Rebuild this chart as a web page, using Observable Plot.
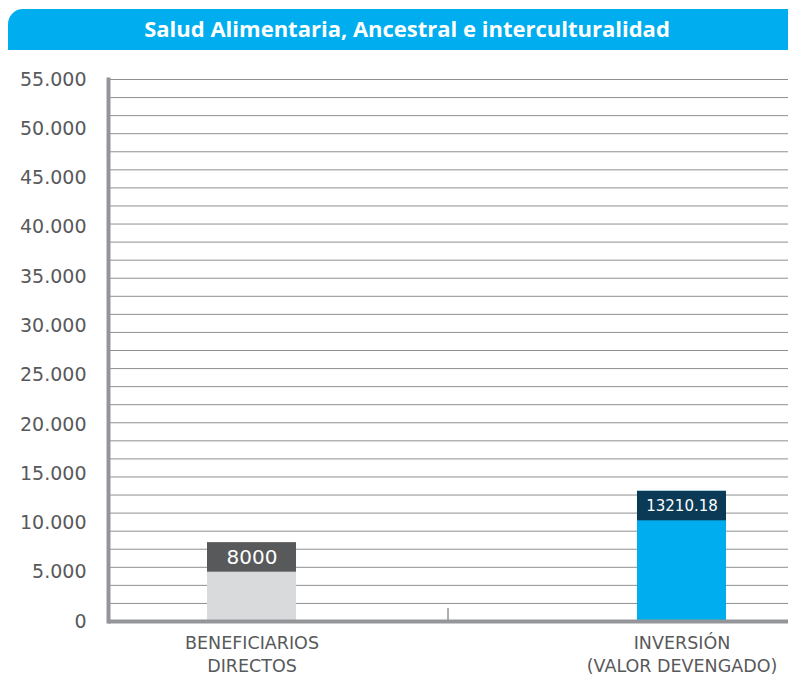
<!DOCTYPE html>
<html><head><meta charset="utf-8">
<script src="https://cdn.jsdelivr.net/npm/d3@7"></script>
<script src="https://cdn.jsdelivr.net/npm/@observablehq/plot@0.6"></script>
<style>
body{margin:0;background:#fff;width:788px;height:676px;overflow:hidden;position:relative}
#title{position:absolute;left:8px;top:9px;width:780px;height:41px;background:#00aeef;border-top-left-radius:15px;color:#fff;font:700 22px "Open Sans",sans-serif;display:flex;align-items:center;justify-content:center;padding-left:18px;padding-bottom:4px;box-sizing:border-box}
#chart{position:absolute;left:0;top:50px}
#chart svg{overflow:visible}
</style></head><body>
<div id="title">Salud Alimentaria, Ancestral e interculturalidad</div>
<div id="chart"></div>
<script>
const categories = ["BENEFICIARIOS\nDIRECTOS", "INVERSIÓN\n(VALOR DEVENGADO)"];
const values = [8000, 13210.18];
const valueLabels = ["8000", "13210.18"];
const yTicks = [0, 5000, 10000, 15000, 20000, 25000, 30000, 35000, 40000, 45000, 50000, 55000];
const yMax = 55000;
const gridDivisions = 30;
const baseColors = ["#d9dadb", "#00aeef"];
const capColors = ["#58595b", "#0b3a56"];
const labelSizes = [20, 15];

const data = categories.map((c, i) => ({category: c, value: values[i], label: valueLabels[i], base: baseColors[i], cap: capColors[i], size: labelSizes[i]}));
const gridValues = d3.range(gridDivisions + 1).map(i => i * yMax / gridDivisions);
const fmt = d => d3.format(",")(d).replace(/,/g, ".");
const font = "DejaVu Sans, sans-serif";

const chart = Plot.plot({
  width: 788,
  height: 626,
  marginLeft: 108,
  marginRight: 0,
  marginTop: 29,
  marginBottom: 55,
  style: {fontFamily: font, background: "transparent"},
  x: {domain: categories, range: [110, 823], paddingInner: 0.793, paddingOuter: 0.2256, round: false, axis: null},
  y: {domain: [0, yMax], axis: null},
  color: {type: "identity"},
  marks: [
    Plot.ruleY(gridValues, {stroke: "#8e8f91", strokeWidth: 1}),
    Plot.barY(data, {x: "category", y1: 0, y2: "value", fill: "base"}),
    Plot.barY(data, {x: "category", y1: "value", y2: "value", insetBottom: -29.5, fill: "cap"}),
    Plot.text(data, {x: "category", y: "value", dy: 15, text: "label", fill: "white", fontSize: "size", fontFamily: font}),
    Plot.ruleX([categories[0]], {x: d => d, dx: 196, insetTop: 529, stroke: "#939598", strokeWidth: 1.5}),
    Plot.ruleY([0], {stroke: "#939598", strokeWidth: 4}),
    Plot.frame({anchor: "left", stroke: "#939598", strokeWidth: 4}),
    Plot.axisY(yTicks, {tickSize: 0, tickPadding: 22, tickFormat: fmt, fontSize: 19, fill: "#58595b", fontFamily: font, label: null}),
    Plot.axisX({tickSize: 0, tickPadding: 12, fontSize: 17.5, lineHeight: 1.28, fill: "#58595b", fontFamily: font, label: null})
  ]
});
document.getElementById("chart").appendChild(chart);
</script>
</body></html>
